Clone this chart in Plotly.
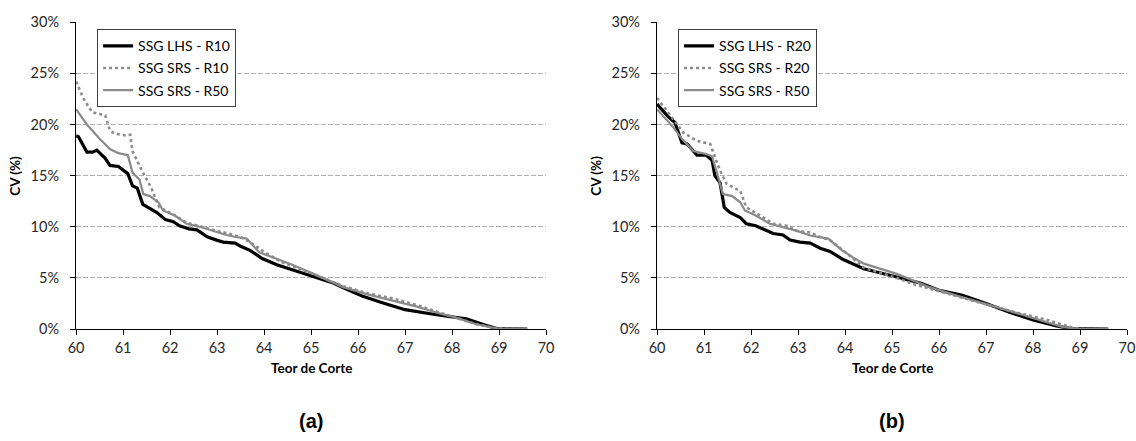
import plotly.graph_objects as go

# ---- data (Teor de Corte, CV %) ----
a_lhs_x = [60.00, 60.05, 60.23, 60.35, 60.44, 60.62, 60.72, 60.90, 61.10, 61.20, 61.30, 61.42, 61.53, 61.72, 61.90, 62.07, 62.20, 62.40, 62.57, 62.80, 62.99, 63.13, 63.38, 63.50, 63.70, 63.96, 64.27, 64.60, 64.83, 65.10, 65.47, 65.76, 66.10, 66.50, 67.00, 67.60, 67.95, 68.30, 68.70, 68.95, 69.60]
a_lhs_y = [18.9, 18.8, 17.3, 17.3, 17.5, 16.7, 16.0, 15.9, 15.2, 14.0, 13.8, 12.2, 11.9, 11.4, 10.7, 10.5, 10.1, 9.8, 9.7, 9.0, 8.7, 8.5, 8.4, 8.1, 7.7, 6.9, 6.3, 5.8, 5.45, 5.1, 4.5, 3.9, 3.2, 2.6, 1.9, 1.45, 1.2, 1.0, 0.4, 0.05, 0.0]

a_srs10_x = [60.00, 60.15, 60.34, 60.62, 60.72, 60.83, 61.08, 61.15, 61.20, 61.40, 61.60, 61.77, 62.07, 62.35, 62.60, 62.90, 63.20, 63.50, 63.70, 64.05, 64.40, 65.10, 65.68, 66.20, 66.74, 67.25, 67.68, 68.10, 68.50, 68.96, 69.60]
a_srs10_y = [24.2, 22.6, 21.2, 20.9, 19.4, 19.1, 18.9, 19.0, 17.4, 15.5, 13.8, 11.9, 11.2, 10.4, 10.1, 9.7, 9.4, 9.0, 8.5, 7.4, 6.5, 5.3, 4.2, 3.5, 3.0, 2.35, 1.7, 1.1, 0.5, 0.05, 0.0]

a_srs50_x = [60.00, 60.23, 60.50, 60.72, 60.90, 61.10, 61.20, 61.35, 61.43, 61.57, 61.75, 61.85, 62.10, 62.35, 62.63, 62.90, 63.20, 63.40, 63.63, 63.90, 64.20, 64.60, 65.10, 65.68, 66.20, 66.74, 67.25, 67.68, 68.10, 68.50, 68.96, 69.60]
a_srs50_y = [21.5, 20.0, 18.6, 17.6, 17.2, 17.0, 15.3, 14.6, 13.2, 13.0, 12.4, 11.6, 11.1, 10.3, 10.0, 9.6, 9.2, 9.0, 8.85, 7.5, 7.0, 6.3, 5.3, 4.1, 3.4, 2.8, 2.2, 1.6, 1.1, 0.5, 0.05, 0.0]

b_lhs_x = [60.00, 60.23, 60.38, 60.53, 60.64, 60.85, 61.05, 61.17, 61.23, 61.34, 61.43, 61.55, 61.77, 61.90, 62.10, 62.34, 62.47, 62.68, 62.83, 63.04, 63.26, 63.47, 63.68, 63.96, 64.40, 65.10, 65.60, 66.00, 66.50, 67.00, 67.50, 68.00, 68.50, 68.80, 69.60]
b_lhs_y = [22.0, 20.8, 20.2, 18.2, 18.1, 17.0, 17.0, 16.5, 15.0, 14.3, 11.9, 11.4, 10.9, 10.3, 10.1, 9.65, 9.35, 9.2, 8.7, 8.5, 8.4, 7.9, 7.6, 6.8, 5.9, 5.1, 4.5, 3.8, 3.3, 2.5, 1.65, 0.9, 0.3, 0.05, 0.0]

b_srs20_x = [60.00, 60.35, 60.56, 60.85, 61.13, 61.34, 61.48, 61.77, 61.90, 62.20, 62.47, 62.76, 62.98, 63.26, 63.47, 63.68, 64.04, 64.40, 65.10, 65.45, 66.17, 66.87, 67.57, 68.30, 68.80, 69.00, 69.60]
b_srs20_y = [22.6, 20.4, 19.2, 18.4, 18.1, 15.5, 14.2, 13.5, 11.9, 11.1, 10.3, 10.1, 9.6, 9.45, 9.0, 8.7, 7.4, 6.0, 5.0, 4.4, 3.5, 2.6, 1.7, 0.9, 0.2, 0.0, 0.0]

b_srs50_x = [60.00, 60.35, 60.53, 60.77, 61.05, 61.17, 61.28, 61.40, 61.60, 61.77, 61.87, 62.10, 62.40, 62.68, 62.98, 63.26, 63.47, 63.64, 63.94, 64.17, 64.40, 65.10, 65.80, 66.50, 67.23, 67.94, 68.64, 69.00, 69.60]
b_srs50_y = [21.5, 19.7, 18.6, 17.4, 17.1, 16.9, 15.2, 13.2, 13.0, 12.4, 11.6, 11.1, 10.3, 9.95, 9.6, 9.15, 9.0, 8.85, 7.7, 7.0, 6.4, 5.4, 4.1, 3.1, 2.15, 1.2, 0.2, 0.0, 0.0]

names_a = ["SSG LHS - R10", "SSG SRS - R10", "SSG SRS - R50"]
names_b = ["SSG LHS - R20", "SSG SRS - R20", "SSG SRS - R50"]
x_ticks = [60, 61, 62, 63, 64, 65, 66, 67, 68, 69, 70]
y_ticks = [0, 5, 10, 15, 20, 25, 30]
y_ticktext = [f"{v}%" for v in y_ticks]

W, H = 1136, 441
# observed mapping of figure pixels to the photographed picture
SX, SY, OFF = 0.986, 0.965, 8
FONT = "Lato"

styles = [dict(color="#000000", width=3.2, dash="solid"),
          dict(color="#8c8c8c", width=2.6, dash="dot"),
          dict(color="#8a8a8a", width=2.2, dash="solid")]

fig = go.Figure()
for i, ((xs, ys), nm, st) in enumerate(zip([(a_lhs_x, a_lhs_y), (a_srs10_x, a_srs10_y), (a_srs50_x, a_srs50_y)], names_a, styles)):
    fig.add_trace(go.Scatter(x=xs, y=ys, name=nm, mode="lines", line=st, legendgroup=f"a{i}",
                             xaxis="x", yaxis="y", legend="legend"))
for i, ((xs, ys), nm, st) in enumerate(zip([(b_lhs_x, b_lhs_y), (b_srs20_x, b_srs20_y), (b_srs50_x, b_srs50_y)], names_b, styles)):
    fig.add_trace(go.Scatter(x=xs, y=ys, name=nm, mode="lines", line=st, legendgroup=f"b{i}",
                             xaxis="x2", yaxis="y2", legend="legend2"))


def px(t):
    return (t / SX - OFF) / W


def py(t):
    return 1 - (t / SY - OFF) / H


xcommon = dict(range=[60, 70], tickvals=x_ticks, showgrid=False, zeroline=False,
               showline=True, linecolor="black", linewidth=1.3,
               ticks="outside", ticklen=5, tickcolor="black", ticklabelstandoff=0,
               tickfont=dict(family=FONT, size=14.5, color="#262626"))
ycommon = dict(range=[0, 30], tickvals=y_ticks, ticktext=y_ticktext, showgrid=True,
               gridcolor="#b0b0b0", griddash="5px,2px", gridwidth=1, zeroline=False,
               showline=True, linecolor="black", linewidth=1.3,
               ticks="outside", ticklen=5, tickcolor="black", ticklabelstandoff=8,
               tickfont=dict(family=FONT, size=14.5, color="#262626"))

ydom = [py(329), py(21)]
legcommon = dict(bgcolor="white", bordercolor="#404040", borderwidth=1,
                 font=dict(family=FONT, size=14, color="black"),
                 itemwidth=30, xanchor="left", yanchor="top",
                 traceorder="grouped", tracegroupgap=1)

fig.update_layout(
    width=W, height=H, margin=dict(l=0, r=0, t=0, b=0),
    paper_bgcolor="white", plot_bgcolor="white",
    showlegend=True,
    xaxis=dict(domain=[px(76), px(546)], anchor="y", **xcommon),
    yaxis=dict(domain=ydom, anchor="x", **ycommon),
    xaxis2=dict(domain=[px(657), px(1127)], anchor="y2", **xcommon),
    yaxis2=dict(domain=ydom, anchor="x2", **ycommon),
    legend=dict(x=px(97), y=py(28), **legcommon),
    legend2=dict(x=px(678), y=py(28), **legcommon),
)

ann = []
for cx in [(76 + 546) / 2, (657 + 1127) / 2]:
    ann.append(dict(text="<b>Teor de Corte</b>", x=px(cx), y=py(368), xref="paper", yref="paper",
                    xanchor="center", yanchor="middle",
                    showarrow=False, font=dict(family=FONT, size=13.5, color="black")))
for lx in [15, 596]:
    ann.append(dict(text="<b>CV (%)</b>", x=px(lx), y=py(175), xref="paper", yref="paper",
                    xanchor="center", yanchor="middle",
                    showarrow=False, textangle=-90, font=dict(family=FONT, size=13.5, color="black")))
for lab, cx in [("(a)", (76 + 546) / 2), ("(b)", (657 + 1127) / 2)]:
    ann.append(dict(text="<b>" + lab + "</b>", x=px(cx), y=py(421), xref="paper", yref="paper",
                    xanchor="center", yanchor="middle",
                    showarrow=False, font=dict(family="Liberation Sans", size=20, color="black")))
fig.update_layout(annotations=ann)

fig.write_html("out.html")
